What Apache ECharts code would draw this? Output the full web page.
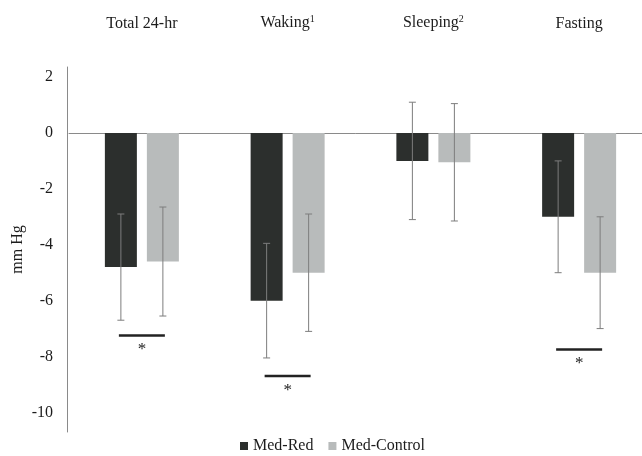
<!DOCTYPE html>
<html>
<head>
<meta charset="utf-8">
<script src="https://cdn.jsdelivr.net/npm/echarts@6/dist/echarts.min.js"></script>
<style>
  html, body { margin: 0; padding: 0; background: #fff; }
  #chart { width: 642px; height: 456px; }
</style>
</head>
<body>
<div id="chart"></div>
<script>
// Change in blood pressure (mm Hg) by measurement period
const categories = ['Total 24-hr', 'Waking', 'Sleeping', 'Fasting'];
const superscripts = ['', '1', '2', ''];
const medRed = [-4.8, -6.0, -1.0, -3.0];
const medRedSD = [1.9, 2.05, 2.1, 2.0];
const medControl = [-4.6, -5.0, -1.05, -5.0];
const medControlSD = [1.95, 2.1, 2.1, 2.0];
// Level of the significance bracket (null = no marker)
const sigLevel = [-7.25, -8.7, null, -7.75];
const yTicks = [-10, -8, -6, -4, -2, 0, 2];

const FONT = 'Liberation Serif';
const INK = '#1c1c1c';
const DARK = '#2c2f2d';
const LIGHT = '#b8bbbb';
const BAR_W = 32;
const BAR_GAP = 10;

function errorSeries(means, sds, side) {
  return {
    type: 'custom',
    xAxisIndex: 0,
    z: 5,
    silent: true,
    data: means.map((m, i) => [i, m - sds[i], m + sds[i]]),
    renderItem(params, api) {
      const c = api.coord([api.value(0), api.value(1)]);
      const t = api.coord([api.value(0), api.value(2)]);
      const x = c[0] + side * (BAR_W / 2 + BAR_GAP / 2);
      const cap = 3.5;
      const style = { stroke: '#7d7d7d', lineWidth: 1 };
      return {
        type: 'group',
        children: [
          { type: 'line', shape: { x1: x, y1: t[1], x2: x, y2: c[1] }, style },
          { type: 'line', shape: { x1: x - cap, y1: t[1], x2: x + cap, y2: t[1] }, style },
          { type: 'line', shape: { x1: x - cap, y1: c[1], x2: x + cap, y2: c[1] }, style }
        ]
      };
    }
  };
}

const sigData = sigLevel
  .map((v, i) => (v === null ? null : [i, v]))
  .filter(d => d !== null);

const chart = echarts.init(document.getElementById('chart'), null, { renderer: 'canvas' });
chart.setOption({
  animation: false,
  backgroundColor: '#fff',
  textStyle: { fontFamily: FONT },
  grid: { left: 69, top: 67, width: 583, height: 365, containLabel: false, outerBoundsMode: 'none' },
  legend: {
    left: 235,
    top: 433,
    icon: 'rect',
    itemWidth: 8,
    itemHeight: 8,
    itemGap: 15,
    textStyle: { fontFamily: FONT, fontSize: 16, color: INK },
    data: ['Med-Red', 'Med-Control']
  },
  xAxis: [
    {
      type: 'category',
      data: categories,
      position: 'bottom',
      axisLine: { onZero: true, lineStyle: { color: '#8a8a8a', width: 1 } },
      axisTick: { show: false },
      axisLabel: { show: false }
    },
    {
      type: 'category',
      data: categories,
      position: 'top',
      axisLine: { show: false },
      axisTick: { show: false },
      axisLabel: {
        margin: 35,
        formatter: (val, idx) => superscripts[idx] ? '{t|' + val + '}{s|' + superscripts[idx] + '}' : '{t|' + val + '}',
        rich: {
          t: { fontFamily: FONT, fontSize: 16, color: INK },
          s: { fontFamily: FONT, fontSize: 10, color: INK, verticalAlign: 'top', padding: [0, 0, 8, 0] }
        }
      }
    }
  ],
  yAxis: {
    type: 'value',
    min: -10.7,
    max: 2.36,
    offset: 2,
    name: 'mm Hg',
    nameLocation: 'middle',
    nameRotate: 90,
    nameGap: 41,
    nameMoveOverlap: false,
    nameTextStyle: { fontFamily: FONT, fontSize: 16, color: INK },
    axisLine: { show: true, lineStyle: { color: '#8a8a8a', width: 1 } },
    axisTick: { show: false },
    splitLine: { show: false },
    axisLabel: {
      customValues: yTicks,
      margin: 14,
      fontFamily: FONT,
      fontSize: 16,
      color: INK
    }
  },
  series: [
    {
      name: 'Med-Red',
      type: 'bar',
      xAxisIndex: 0,
      data: medRed,
      barWidth: BAR_W,
      barGap: (BAR_GAP / BAR_W * 100) + '%',
      itemStyle: { color: DARK }
    },
    {
      name: 'Med-Control',
      type: 'bar',
      xAxisIndex: 0,
      data: medControl,
      barWidth: BAR_W,
      barGap: (BAR_GAP / BAR_W * 100) + '%',
      itemStyle: { color: LIGHT }
    },
    errorSeries(medRed, medRedSD, -1),
    errorSeries(medControl, medControlSD, 1),
    {
      type: 'custom',
      xAxisIndex: 0,
      z: 6,
      silent: true,
      data: sigData,
      renderItem(params, api) {
        const p = api.coord([api.value(0), api.value(1)]);
        return {
          type: 'group',
          children: [
            { type: 'line', shape: { x1: p[0] - 23, y1: p[1], x2: p[0] + 23, y2: p[1] },
              style: { stroke: '#222', lineWidth: 2.5 } },
            { type: 'text', x: p[0], y: p[1] + 14,
              style: { text: '*', fontFamily: FONT, fontSize: 17, fill: INK, align: 'center', verticalAlign: 'middle' } }
          ]
        };
      }
    }
  ]
});
</script>
</body>
</html>
